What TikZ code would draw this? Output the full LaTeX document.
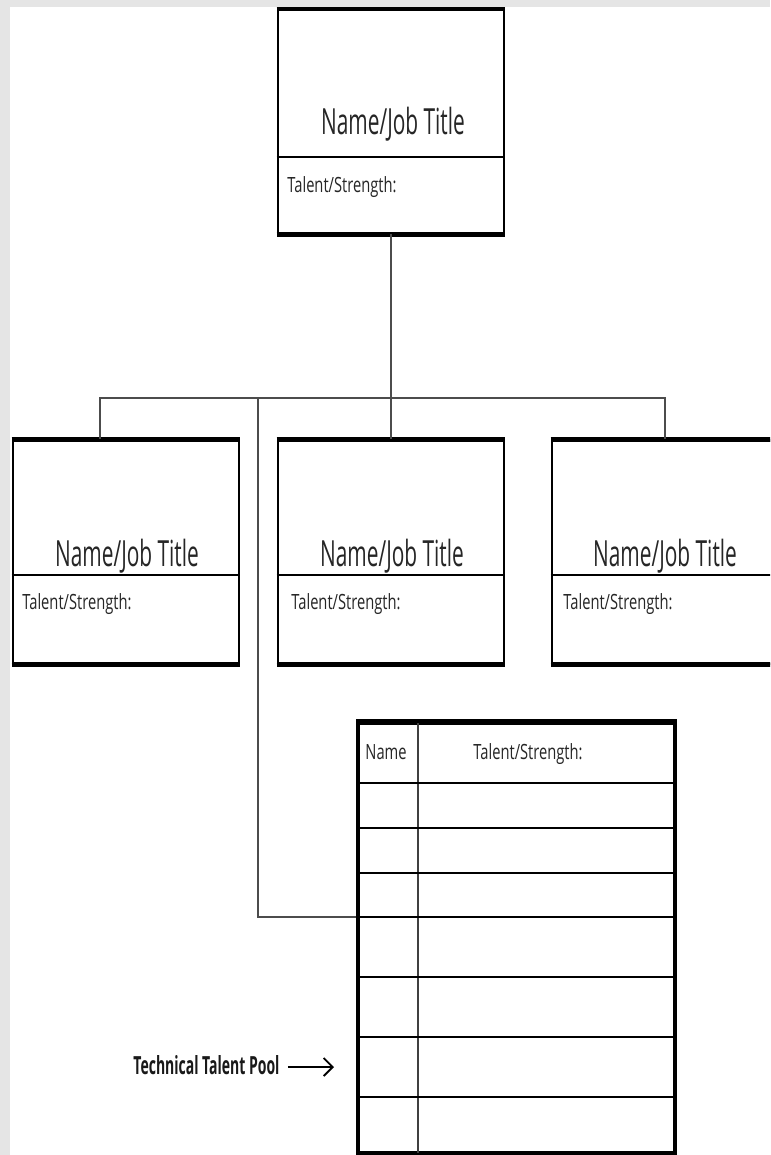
\documentclass[tikz,border=0pt]{standalone}
\usepackage{fontspec}
\setmainfont{Open Sans}[FakeStretch=0.7]
\newfontfamily\titlefont{Open Sans}[FakeStretch=0.58]
\newfontfamily\tagfont{Open Sans}[FakeStretch=0.56]
\usetikzlibrary{positioning,arrows.meta}

\tikzset{
  jobbox/.style={draw, line width=1.4pt, minimum width=113pt, minimum height=111.5pt, inner sep=0pt},
  jobname/.style={font=\titlefont\fontsize{18}{21}\selectfont, text=black!85, inner sep=0pt, anchor=base},
  talent/.style={font=\fontsize{10.5}{12}\selectfont, text=black!85, anchor=base west, inner sep=0pt},
  link/.style={draw=black!70, line width=0.9pt},
  divider/.style={line width=1.1pt},
  heavy/.style={line width=2.4pt},
}

\begin{document}
\begin{tikzpicture}[x=0.5pt,y=-0.5pt]
\useasboundingbox (0,0) rectangle (770,1155);
\clip (0,0) rectangle (770,1155);
\fill[black!10] (0,0) rectangle (770,1155);
\fill[white] (10,7) rectangle (770,1155);

% boss box
\node[jobbox] (boss) at (391,121.5) {};
\draw[divider] (boss.west |- 0,157) -- (boss.east |- 0,157);
\draw[line width=1.8pt] (boss.north west) -- (boss.north east);
\draw[heavy] (boss.south west) -- (boss.south east);
\node[jobname] (bossname) at (393,135) {Name/Job Title};
\node[talent] (bosstal) at (287,192) {Talent/Strength:};

% team boxes
\node[jobbox] (left) at (126,552) {};
\node[jobbox] (mid) at (391,552) {};
\node[jobbox] (right) at (665,552) {};
\foreach \b in {left,mid,right}{
  \draw[divider] (\b.west |- 0,575) -- (\b.east |- 0,575);
  \draw[heavy] (\b.north west) -- (\b.north east);
  \draw[heavy] (\b.south west) -- (\b.south east);
}
\node[jobname] (leftname) at (127,566) {Name/Job Title};
\node[jobname] (midname) at (392,566) {Name/Job Title};
\node[jobname] (rightname) at (665,566) {Name/Job Title};
\node[talent] (lefttal) at (22,609) {Talent/Strength:};
\node[talent] (midtal) at (291,609) {Talent/Strength:};
\node[talent] (righttal) at (563,609) {Talent/Strength:};

% talent pool table
\node[draw, line width=1.6pt, minimum width=158.5pt, minimum height=215pt, inner sep=0pt] (pool) at (516.5,938) {};
\draw[line width=2pt] (pool.north west) -- (pool.north east);
\draw[line width=1.1pt, black!75] (418,723) -- (418,1153);
\foreach \y in {783,828,873,917,977,1037,1097}
  \draw[line width=1.1pt] (pool.west |- 0,\y) -- (pool.east |- 0,\y);
\node[talent, anchor=base] (poolname) at (386,759) {Name};
\node[talent, anchor=base] (pooltal) at (528,759) {Talent/Strength:};

% connectors
\coordinate (bar) at (391,398);
\coordinate (tee) at (258,398);
\coordinate (dropl) at (100,398);
\draw[link] (boss.south) -- (bar);
\draw[link] (dropl |- left.north) -- (dropl) -- (right.north |- bar) -- (right.north);
\draw[link] (bar) -- (mid.north);
\draw[link] (tee) |- (pool.west |- 0,917);

% label
\node[font=\tagfont\bfseries\fontsize{12.5}{14}\selectfont, text=black!90, inner sep=0pt, anchor=base west] (pooltag) at (133,1074) {Technical Talent Pool};
\coordinate (pooltip) at (334,1067);
\draw[-{Straight Barb[length=4.5pt,width=9pt]}, line width=0.9pt] (pooltag.east |- pooltip) ++(4pt,0) -- (pooltip);
\end{tikzpicture}
\end{document}
